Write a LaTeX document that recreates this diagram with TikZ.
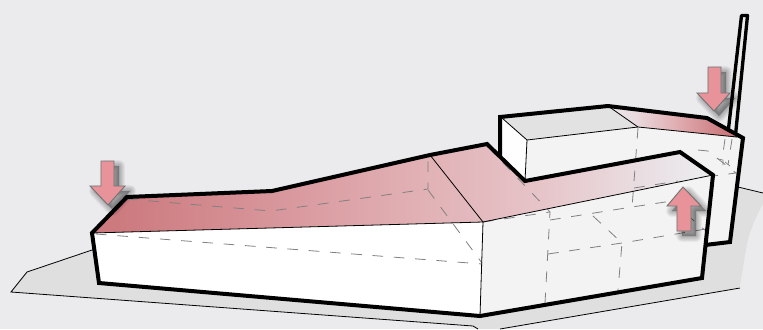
\documentclass[tikz,border=0pt]{standalone}
\usetikzlibrary{calc}
\definecolor{bgc}{HTML}{EBEBEE}
\definecolor{groundc}{HTML}{DFDFE0}
\definecolor{sidec}{HTML}{F3F3F4}
\definecolor{topc}{HTML}{E2E2E3}
\definecolor{arrowc}{HTML}{E8939A}
\definecolor{r1}{HTML}{CC7A7E}
\definecolor{r2}{HTML}{D69297}
\definecolor{r3}{HTML}{E0AEB2}
\definecolor{r4}{HTML}{E6C4C8}
\definecolor{r5}{HTML}{E9DADE}
\pgfdeclarehorizontalshading{mainroof}{100bp}{color(0bp)=(r1); color(27bp)=(r1); color(38bp)=(r2); color(50bp)=(r3); color(61bp)=(r4); color(68bp)=(r5); color(74bp)=(bgc); color(100bp)=(bgc)}
\pgfdeclarehorizontalshading{upperroof}{100bp}{color(0bp)=(bgc); color(25bp)=(bgc); color(35bp)=(r5); color(50bp)=(r3); color(68bp)=(r1); color(100bp)=(r1)}
\tikzset{
  heavy/.style={draw=black,line width=3pt,line join=miter},
  thinedge/.style={draw=black,line width=.6pt},
  hidden/.style={draw=gray,line width=.6pt,dash pattern=on 8pt off 8pt},
  pinkarrow/.style={fill=arrowc,draw=gray!90!black,line width=.7pt,line join=miter},
  arrowshadow/.style={fill=black,draw=black,line join=round,opacity=.032}
}
\newcommand{\shadowpoly}[1]{%
  \foreach \w in {0.2,1.2,2.2,3.2,4.2,5.2,6.2,7.2,8.2,9.2}{\path[arrowshadow,line width=\w pt,shift={(5,5)}] #1;}%
  \path[pinkarrow] #1;}
\begin{document}
\begin{tikzpicture}[x=.75pt,y=-.75pt]
\useasboundingbox (0,0) rectangle (763,329);
\clip (0,0) rectangle (763,329);
\fill[bgc] (0,0) rectangle (763,329);
% ground
\path[fill=groundc] (11,292) -- (27,272) -- (95,249) -- (738,187) -- (763,193) -- (763,205) .. controls (752,225) and (748,240) .. (747,247) -- (740,288) -- (500,329) -- (478,329) -- (473,326) -- cycle;
\draw[black,line width=.6pt] (95,249) -- (27,272) -- (11,292) -- (473,326) -- (478,329);
\draw[black,line width=.6pt] (500,329) -- (740,288);
\draw[black,line width=.6pt] (738,187) -- (763,193);
\draw[white!85!gray,line width=.6pt] (763,205) .. controls (752,225) and (748,240) .. (747,247) -- (740,288);
% chimney
\path[fill=white!92!black,draw=black,line width=2.5pt,line join=round] (741.5,15.5) -- (747.5,15.5) -- (735.5,135) -- (728,133) -- cycle;
% upper block
\path[fill=sidec] (527,140) -- (638,127) -- (743,138) -- (730,242) -- (705,245) -- (713,175) -- (680,152) -- (525,181) -- cycle;
\path[fill=white!97!bgc] (502,118) -- (527,140) -- (525,181) -- (500,156) -- cycle;
\path[fill=topc] (502,118) -- (608,106) -- (638,127) -- (527,140) -- cycle;
\path[shading=upperroof,shading angle=0] (608,106) -- (707,118) -- (743,138) -- (638,127) -- cycle;
\draw[thinedge] (502,118) -- (527,140) -- (638,127) -- (737,137);
\draw[thinedge] (527,140) -- (525,181);
\draw[thinedge] (608,106) -- (638,127);
% main faces
\path[fill=white] (92,233) -- (483,222) -- (480,316) -- (100,283) -- cycle;
\path[fill=sidec] (483,222) -- (713,175) -- (702,278) -- (480,316) -- cycle;
\path[shading=mainroof,shading angle=0] (92,233) -- (127,197) -- (272,191) -- (430,155) -- (487,144) -- (525,181) -- (680,152) -- (713,175) -- (483,222) -- cycle;
% hidden lines
\draw[hidden] (127,199) -- (271,211) -- (428,189) -- (428,157);
\draw[hidden] (428,190) -- (482,263);
\draw[hidden] (96,234) -- (482,264);
\draw[hidden] (488,147) -- (550,212) -- (545,303);
\draw[hidden] (483,222) -- (550,212);
\draw[hidden] (550,220) -- (632,207) -- (672,201);
\draw[hidden] (593,216) -- (622,243) -- (618,290);
\draw[hidden] (548,254) -- (622,243) -- (706,229);
\draw[hidden] (638,128) -- (632,208);
\draw[hidden] (634,188) -- (678,181);
\draw[hidden] (686,214) -- (706,231);
\draw[hidden] (698,150) -- (708,151) -- (736,173) -- (713,176);
\draw[hidden] (725,139) -- (722,160);
\draw[hidden] (732,139) -- (728,165);
\draw[gray,line width=.5pt] (718,159) -- (723,160) (723,160) -- (723,165) (725,162) -- (730,166);
% thin edges
\draw[thinedge] (92,233) -- (483,222) -- (713,175);
\draw[thinedge] (430,155) -- (483,222) -- (480,316);
% heavy outlines
\draw[heavy] (92,233) -- (127,197) -- (272,191) -- (430,155) -- (487,144) -- (525,181) -- (680,152) -- (713,175) -- (702,278) -- (480,316) -- (99,283) -- cycle;
\draw[heavy] (500,156) -- (500,117) -- (608,106) -- (707,118) -- (743,138) -- (730,242) -- (705,245);
% arrows
\shadowpoly{(101,161) -- (114,161) -- (114,186) -- (125,186) -- (108,205) -- (90,186) -- (101,186) -- cycle}
\shadowpoly{(708,67) -- (721,67) -- (721,93) -- (730,93) -- (714,111) -- (697,93) -- (708,93) -- cycle}
\shadowpoly{(683,187) -- (701,206) -- (691,206) -- (691,231) -- (677,231) -- (677,206) -- (667,206) -- cycle}
\end{tikzpicture}
\end{document}
